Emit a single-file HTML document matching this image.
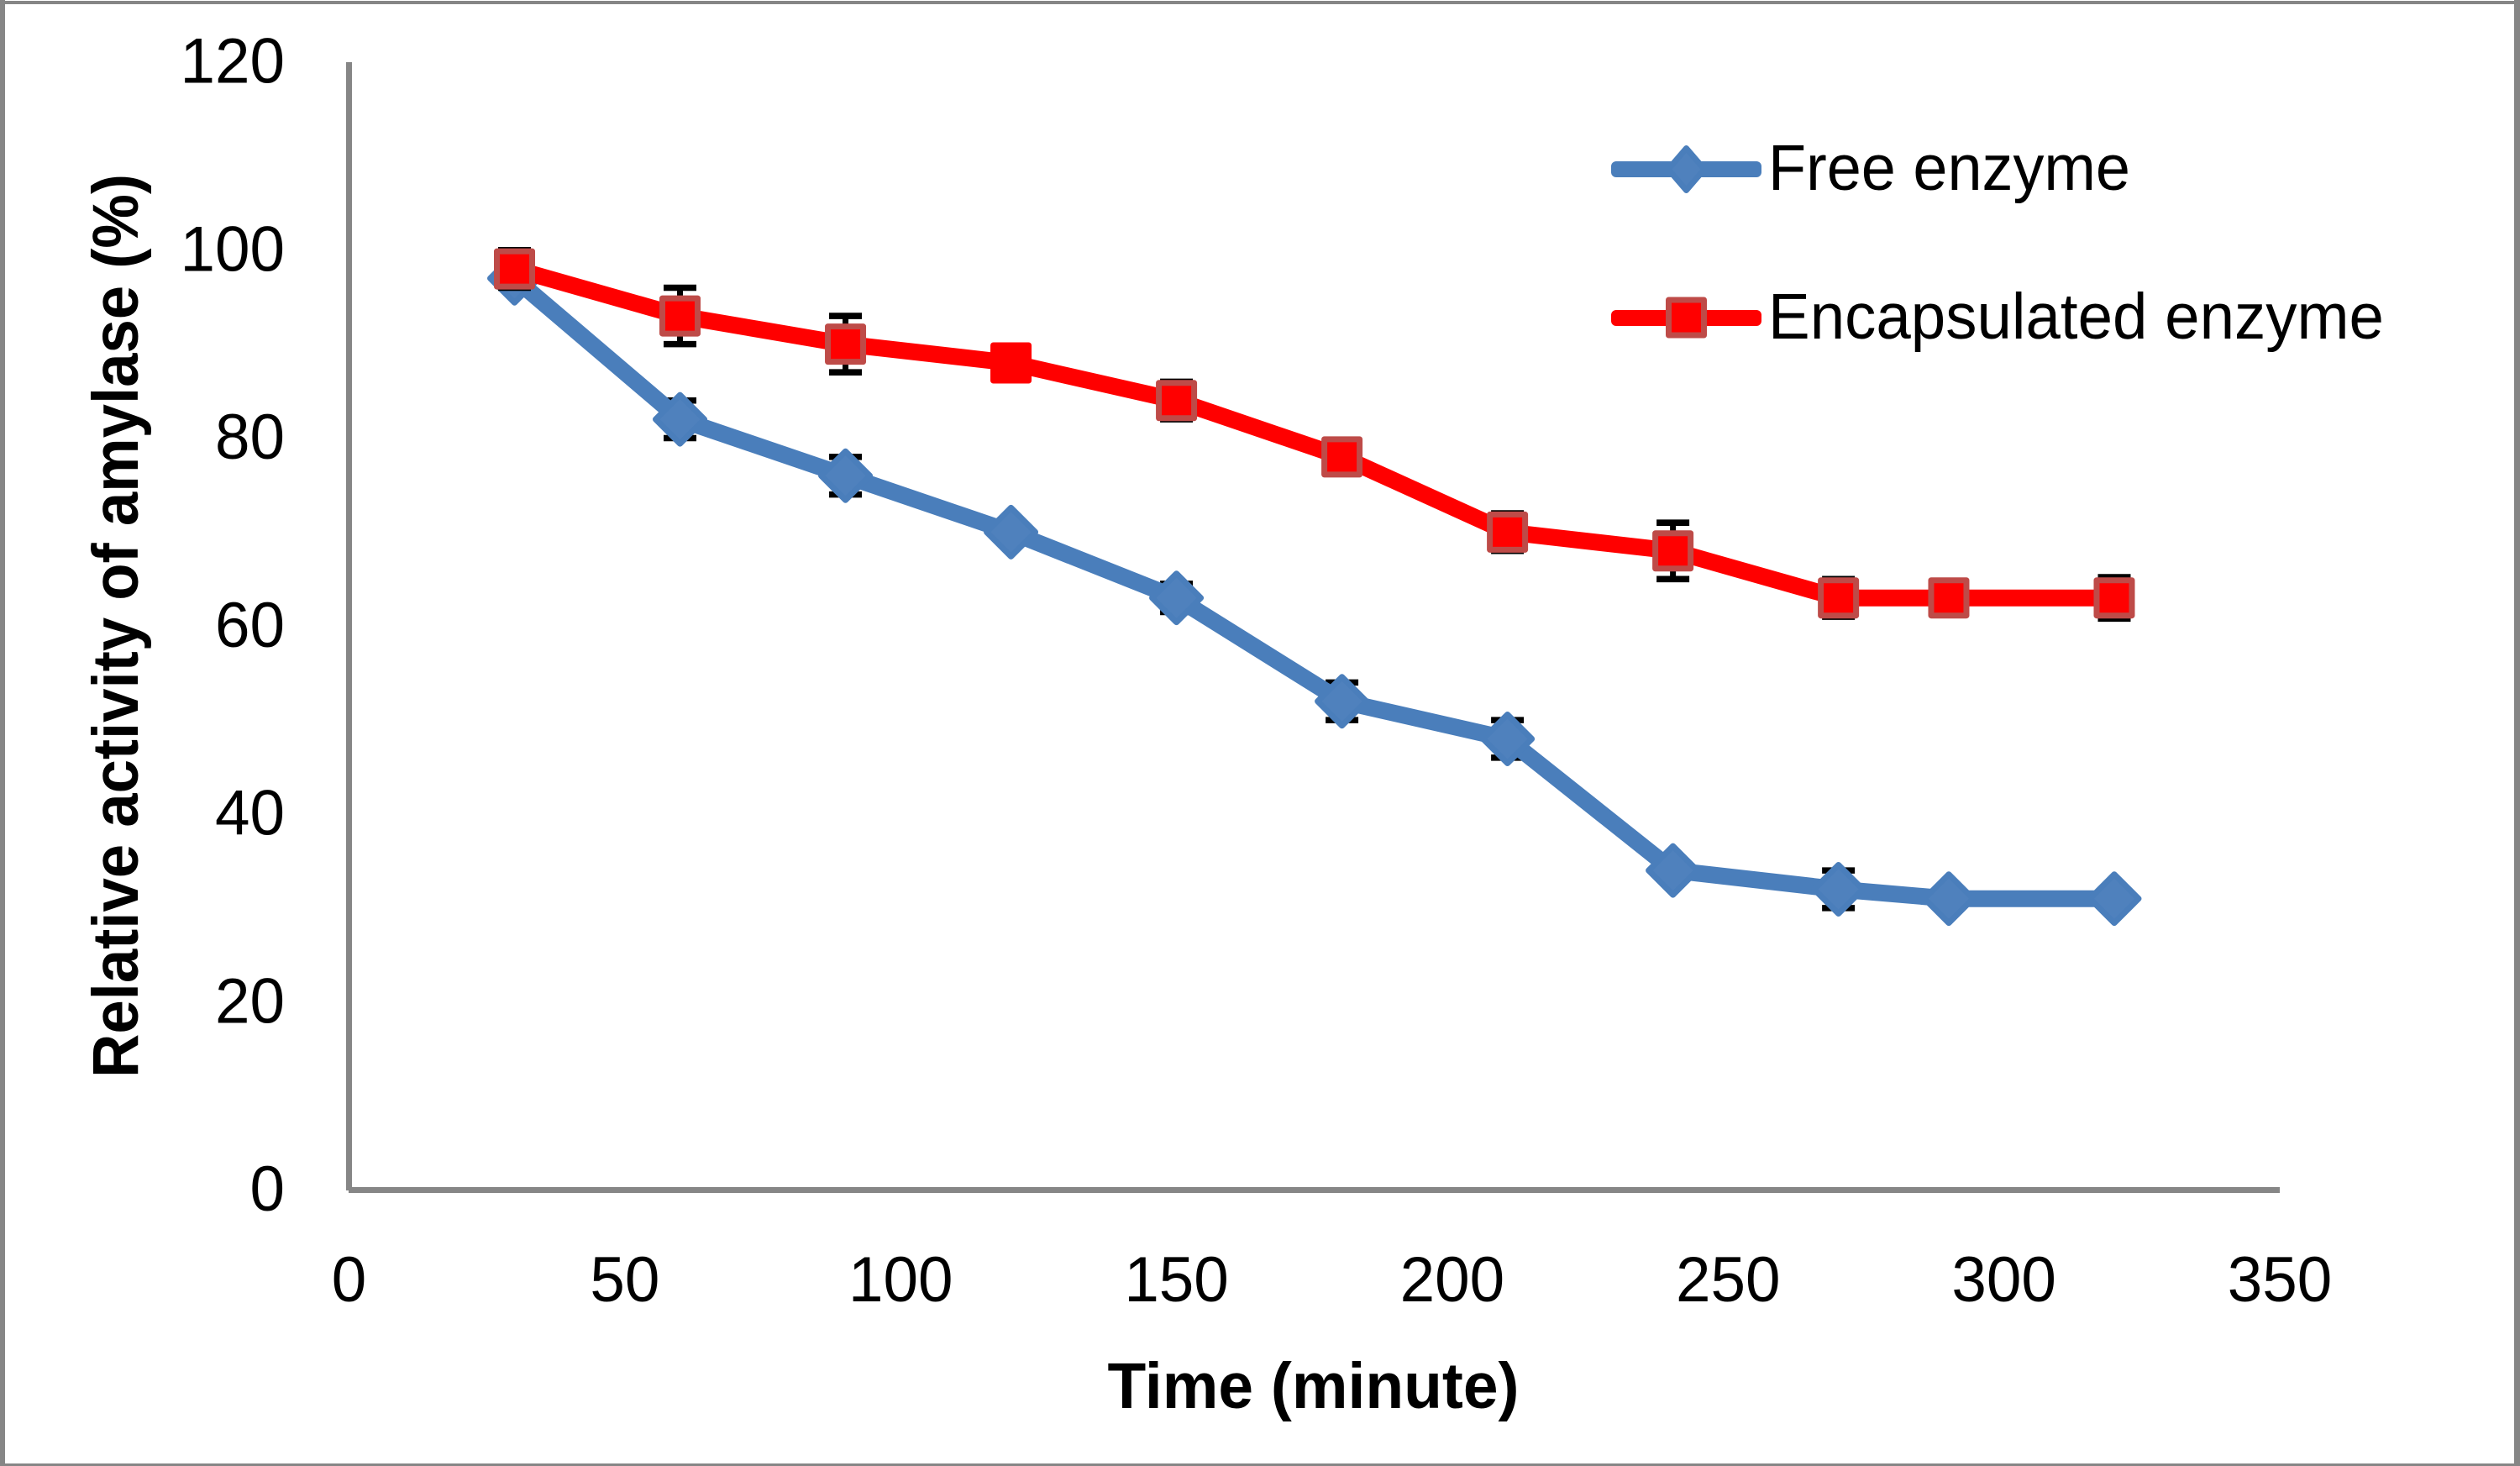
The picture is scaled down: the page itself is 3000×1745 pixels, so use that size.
<!DOCTYPE html>
<html lang="en">
<head>
<meta charset="utf-8">
<title>Relative activity of amylase over time</title>
<style>
html,body{margin:0;padding:0;background:#fff;width:3000px;height:1745px;overflow:hidden}
svg{display:block}
text{font-family:"Liberation Sans",sans-serif;fill:#000}
</style>
</head>
<body>
<svg id="chart" xmlns="http://www.w3.org/2000/svg" width="3000" height="1745" viewBox="0 0 3000 1745">
  <rect x="0" y="0" width="3000" height="1745" fill="#fff"/>
  <g fill="#868686">
    <rect x="0" y="1" width="3000" height="4"/>
    <rect x="0" y="0" width="6" height="1745"/>
    <rect x="2993" y="0" width="7" height="1745"/>
    <rect x="0" y="1742" width="3000" height="3"/>
  </g>
  <g id="axes"></g>
  <g id="series"></g>
  <text transform="translate(164,1283) rotate(-90)" x="0" y="0" font-size="77" font-weight="700" textLength="1076" lengthAdjust="spacingAndGlyphs">Relative activity of amylase (%)</text>
  <text x="1318.5" y="1676" font-size="77" font-weight="700" textLength="490" lengthAdjust="spacingAndGlyphs">Time (minute)</text>
  <g>
    <g>
      <rect x="1918" y="192" width="179" height="19" rx="6" fill="#4A7EBB"/>
      <polygon points="2007.5,176.5 2029,201.5 2007.5,226.5 1986,201.5" fill="#4F81BD" stroke="#4A7EBB" stroke-width="7" stroke-linejoin="round"/>
      <text x="2105" y="226" font-size="77" textLength="431" lengthAdjust="spacingAndGlyphs">Free enzyme</text>
    </g>
    <g>
      <rect x="1918" y="369" width="179" height="19" rx="6" fill="#FF0000"/>
      <rect x="1986.5" y="357" width="42" height="42" fill="#FF0000" stroke="#BE4B48" stroke-width="7" stroke-linejoin="round"/>
      <text x="2105" y="403" font-size="77" textLength="733" lengthAdjust="spacingAndGlyphs">Encapsulated enzyme</text>
    </g>
  </g>
</svg>
<script>
const timeMinutes = [30, 60, 90, 120, 150, 180, 210, 240, 270, 290, 320];
const freeEnzyme = [97, 82, 76, 70, 63, 52, 48, 34, 32, 31, 31];
const freeEnzymeError = [0, 2, 2, 0, 1.5, 2, 2, 0, 2, 0, 0];
const encapsulatedEnzyme = [98, 93, 90, 88, 84, 78, 70, 68, 63, 63, 63];
const encapsulatedEnzymeError = [2, 3, 3, 0, 2, 0, 2, 3, 2, 0, 2.2];
const xTickLabels = [0, 50, 100, 150, 200, 250, 300, 350];
const yTickLabels = [0, 20, 40, 60, 80, 100, 120];

const SVGNS = 'http://www.w3.org/2000/svg';
const xMax = 350, yMax = 120;
const plotLeft = 415.5, plotRight = 2714, plotBottom = 1416.5, plotTop = 74;
function xScale(v) { return plotLeft + (v / xMax) * (plotRight - plotLeft); }
function yScale(v) { return plotBottom - (v / yMax) * (plotBottom - plotTop); }

function mk(tag, parent) {
  const el = document.createElementNS(SVGNS, tag);
  parent.appendChild(el);
  return el;
}

const axes = document.getElementById('axes');
const seriesLayer = document.getElementById('series');

const yAxisLine = mk('rect', axes);


yAxisLine.setAttribute('x', plotLeft - 3.5);
yAxisLine.setAttribute('y', plotTop);
yAxisLine.setAttribute('width', 7);
yAxisLine.setAttribute('height', plotBottom - plotTop + 0.5);
yAxisLine.setAttribute('fill', '#868686');

const xAxisLine = mk('rect', axes);


xAxisLine.setAttribute('x', plotLeft - 0.5);
xAxisLine.setAttribute('y', plotBottom - 3.5);
xAxisLine.setAttribute('width', plotRight - plotLeft + 0.5);
xAxisLine.setAttribute('height', 7);
xAxisLine.setAttribute('fill', '#868686');

yTickLabels.forEach(function (v) {
  const t = mk('text', axes);
  
  
  t.setAttribute('x', 339);
  t.setAttribute('y', yScale(v) + 24.5);
  t.setAttribute('text-anchor', 'end');
  t.setAttribute('font-size', 76);
  t.setAttribute('textLength', 41.5 * String(v).length);
  t.setAttribute('lengthAdjust', 'spacingAndGlyphs');
  t.textContent = String(v);
});

xTickLabels.forEach(function (v) {
  const t = mk('text', axes);
  
  
  t.setAttribute('x', xScale(v));
  t.setAttribute('y', 1549);
  t.setAttribute('text-anchor', 'middle');
  t.setAttribute('font-size', 76);
  t.setAttribute('textLength', 41.5 * String(v).length);
  t.setAttribute('lengthAdjust', 'spacingAndGlyphs');
  t.textContent = String(v);
});

function drawErrors(parent, values, errors) {
  values.forEach(function (v, i) {
    if (!errors[i]) return;
    const cx = xScale(timeMinutes[i]);
    const top = yScale(v + errors[i]);
    const bottom = yScale(v - errors[i]);

    const stem = mk('line', parent);
    
    
    stem.setAttribute('x1', cx);
    stem.setAttribute('x2', cx);
    stem.setAttribute('y1', top);
    stem.setAttribute('y2', bottom);
    stem.setAttribute('stroke', '#000');
    stem.setAttribute('stroke-width', 7);

    const capTop = mk('line', parent);
    
    
    capTop.setAttribute('x1', cx - 19.5);
    capTop.setAttribute('x2', cx + 19.5);
    capTop.setAttribute('y1', top);
    capTop.setAttribute('y2', top);
    capTop.setAttribute('stroke', '#000');
    capTop.setAttribute('stroke-width', 7.6);

    const capBottom = mk('line', parent);
    
    
    capBottom.setAttribute('x1', cx - 19.5);
    capBottom.setAttribute('x2', cx + 19.5);
    capBottom.setAttribute('y1', bottom);
    capBottom.setAttribute('y2', bottom);
    capBottom.setAttribute('stroke', '#000');
    capBottom.setAttribute('stroke-width', 7.6);
  });
}

function linePoints(values) {
  return values.map(function (v, i) {
    return xScale(timeMinutes[i]) + ',' + yScale(v);
  }).join(' ');
}

/* Free enzyme series */
const freeGroup = mk('g', seriesLayer);


drawErrors(freeGroup, freeEnzyme, freeEnzymeError);

const freeLine = mk('polyline', freeGroup);


freeLine.setAttribute('points', linePoints(freeEnzyme));
freeLine.setAttribute('fill', 'none');
freeLine.setAttribute('stroke', '#4A7EBB');
freeLine.setAttribute('stroke-width', 20);
freeLine.setAttribute('stroke-linejoin', 'round');

freeEnzyme.forEach(function (v, i) {
  const cx = xScale(timeMinutes[i]);
  const cy = yScale(v);
  const r = 29;
  const d = mk('polygon', freeGroup);
  
  
  d.setAttribute('points', cx + ',' + (cy - r) + ' ' + (cx + r) + ',' + cy + ' ' + cx + ',' + (cy + r) + ' ' + (cx - r) + ',' + cy);
  d.setAttribute('fill', '#4F81BD');
  d.setAttribute('stroke', '#4A7EBB');
  d.setAttribute('stroke-width', 7);
  d.setAttribute('stroke-linejoin', 'round');
});

/* Encapsulated enzyme series */
const encGroup = mk('g', seriesLayer);


drawErrors(encGroup, encapsulatedEnzyme, encapsulatedEnzymeError);

const encLine = mk('polyline', encGroup);


encLine.setAttribute('points', linePoints(encapsulatedEnzyme));
encLine.setAttribute('fill', 'none');
encLine.setAttribute('stroke', '#FF0000');
encLine.setAttribute('stroke-width', 20);
encLine.setAttribute('stroke-linejoin', 'round');

encapsulatedEnzyme.forEach(function (v, i) {
  const cx = xScale(timeMinutes[i]);
  const cy = yScale(v);
  const s = mk('rect', encGroup);
  
  
  s.setAttribute('x', cx - 21);
  s.setAttribute('y', cy - 21);
  s.setAttribute('width', 42);
  s.setAttribute('height', 42);
  s.setAttribute('fill', '#FF0000');
  /* the 120-minute marker has a pure red outline in the reference */
  s.setAttribute('stroke', timeMinutes[i] === 120 ? '#FF0000' : '#BE4B48');
  s.setAttribute('stroke-width', 7);
  s.setAttribute('stroke-linejoin', 'round');
});
</script>
</body>
</html>
